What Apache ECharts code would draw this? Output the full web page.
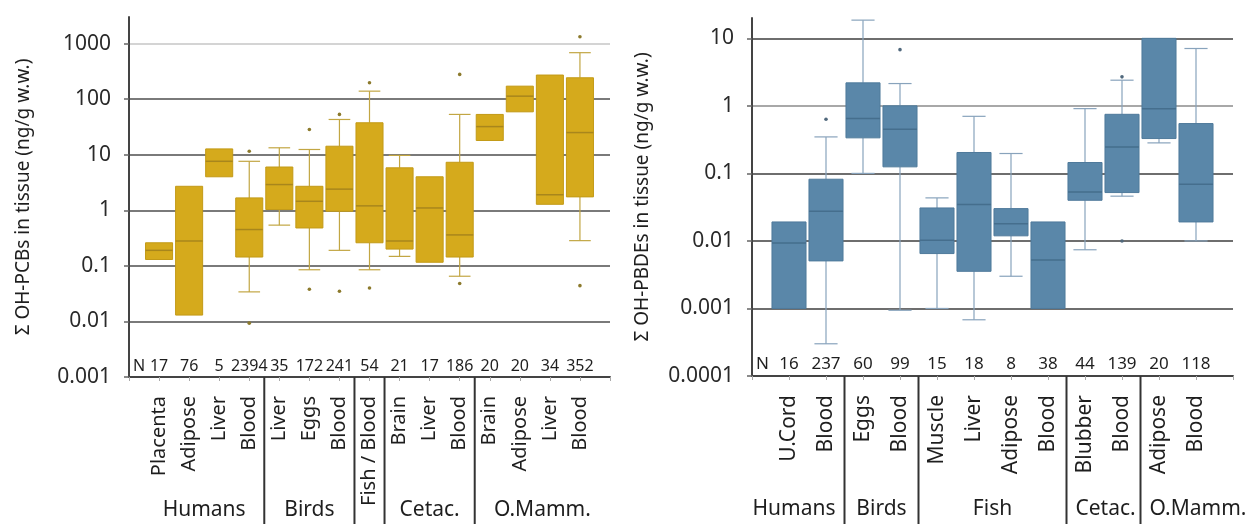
<!DOCTYPE html>
<html>
<head>
<meta charset="utf-8">
<script src="https://cdn.jsdelivr.net/npm/echarts@6/dist/echarts.min.js"></script>
<style>
html,body{margin:0;padding:0;background:#fff;}
#c{width:1260px;height:524px;}
</style>
</head>
<body>
<div id="c"></div>
<script>
// ---------- Left chart: OH-PCBs ----------
const catsL = ['Placenta','Adipose','Liver','Blood','Liver','Eggs','Blood','Fish / Blood','Brain','Liver','Blood','Brain','Adipose','Liver','Blood'];
const nL    = [17,76,5,2394,35,172,241,54,21,17,186,20,20,34,352];
const q1L   = [0.13,0.013,4.0,0.144,1.03,0.48,0.96,0.26,0.2,0.116,0.144,18,59,1.28,1.74];
const medL  = [0.19,0.28,7.6,0.45,2.9,1.45,2.4,1.2,0.28,1.1,0.36,32,113,1.9,25];
const q3L   = [0.26,2.7,12.7,1.67,6.0,2.7,14.2,37.5,5.8,4.0,7.3,53,171,271,242];
const minL  = [null,null,null,0.034,0.54,0.085,0.19,0.085,0.148,null,0.065,null,null,null,0.284];
const maxL  = [null,null,null,7.6,13.3,12.4,43,139,9.7,null,53,null,null,null,684];
const outL  = [[],[],[],[11.5,0.0093],[],[28.4,0.038],[53,0.035],[197,0.04],[],[],[278,0.048],[],[],[],[1323,0.044]];
const groupNamesL = ['Humans','Birds','','Cetac.','O.Mamm.'];
const groupSizesL = [4,3,1,3,4];
const yTitleL = 'Σ OH-PCBs in tissue (ng/g w.w.)';

// ---------- Right chart: OH-PBDEs ----------
const catsR = ['U.Cord','Blood','Eggs','Blood','Muscle','Liver','Adipose','Blood','Blubber','Blood','Adipose','Blood'];
const nR    = [16,237,60,99,15,18,8,38,44,139,20,118];
const q1R   = [0.001,0.00506,0.336,0.125,0.0065,0.00355,0.0119,0.001,0.04,0.052,0.328,0.0191];
const medR  = [0.0093,0.0275,0.65,0.45,0.0102,0.0345,0.018,0.0052,0.053,0.247,0.91,0.069];
const q3R   = [0.0191,0.082,2.19,1.0,0.0308,0.204,0.0301,0.0191,0.145,0.75,10,0.547];
const minR  = [null,0.0003,0.1,0.00094,0.001,0.00068,0.003,null,0.0074,0.046,0.283,0.01];
const maxR  = [null,0.347,18.6,2.14,0.0434,0.70,0.197,null,0.91,2.4,null,7.07];
const outR  = [[],[0.634],[],[6.8],[],[],[],[],[],[2.69,0.01],[],[]];
const groupNamesR = ['Humans','Birds','Fish','Cetac.','O.Mamm.'];
const groupSizesR = [2,2,4,2,2];
const yTitleR = 'Σ OH-PBDEs in tissue (ng/g w.w.)';

const FONT = '"Noto Sans", "DejaVu Sans", sans-serif';
const TXT = '#1e1e1e';

const measureCtx = document.createElement('canvas').getContext('2d');
function textWidth(t, size){
  measureCtx.font = size + 'px ' + FONT;
  return measureCtx.measureText(t).width;
}

function logLabel(v){
  const e = Math.round(Math.log10(v));
  return e < 0 ? Math.pow(10, e).toFixed(-e) : String(Math.pow(10, e));
}

function boxRenderer(cfg){
  return function(params, api){
    const i = params.dataIndex;
    const pos = api.value(0);
    const band = api.coord([pos + 0.5, cfg.med[i]])[0] - api.coord([pos - 0.5, cfg.med[i]])[0];
    const w = band * cfg.boxRatio;
    const cw = w * cfg.capRatio;
    const cx = api.coord([pos, cfg.med[i]])[0];
    const yQ1 = api.coord([pos, cfg.q1[i]])[1];
    const yQ3 = api.coord([pos, cfg.q3[i]])[1];
    const yMed = api.coord([pos, cfg.med[i]])[1];
    const ch = [];
    const ws = {stroke: cfg.whisker, lineWidth: 1.2};
    if (cfg.max[i] != null){
      const y = api.coord([pos, cfg.max[i]])[1];
      ch.push({type:'line', shape:{x1:cx, y1:yQ3, x2:cx, y2:y}, style:ws});
      ch.push({type:'line', shape:{x1:cx-cw/2, y1:y, x2:cx+cw/2, y2:y}, style:ws});
    }
    if (cfg.min[i] != null){
      const y = api.coord([pos, cfg.min[i]])[1];
      ch.push({type:'line', shape:{x1:cx, y1:yQ1, x2:cx, y2:y}, style:ws});
      ch.push({type:'line', shape:{x1:cx-cw/2, y1:y, x2:cx+cw/2, y2:y}, style:ws});
    }
    ch.push({type:'rect', shape:{x:cx-w/2, y:yQ3, width:w, height:yQ1-yQ3},
      style:{fill:cfg.fill, stroke:cfg.edge, lineWidth:1}});
    ch.push({type:'line', shape:{x1:cx-w/2, y1:yMed, x2:cx+w/2, y2:yMed},
      style:{stroke:cfg.medColor, lineWidth:1.5}});
    cfg.out[i].forEach(function(v){
      const p = api.coord([pos, v]);
      ch.push({type:'circle', shape:{cx:p[0], cy:p[1], r:1.8}, style:{fill:cfg.dot}});
    });
    // N row
    const yBase = api.coord([pos, cfg.yMin])[1];
    ch.push({type:'text', x:cx, y:yBase-3, style:{text:String(cfg.n[i]), fill:TXT,
      fontSize:cfg.nSize, fontFamily:FONT, align:'center', verticalAlign:'bottom'}});
    if (i === 0){
      const p0 = api.coord([0, cfg.yMin]);
      ch.push({type:'text', x:p0[0]+4, y:p0[1]-3, style:{text:'N', fill:TXT,
        fontSize:cfg.nSize, fontFamily:FONT, align:'left', verticalAlign:'bottom'}});
    }
    return {type:'group', children:ch};
  };
}

function groupRenderer(names, sizes, yMin, nCats){
  const starts = [];
  let s = 1;
  sizes.forEach(function(n){ starts.push(s); s += n; });
  const FS = 21;
  return function(params, api){
    const g = params.dataIndex;
    const st = starts[g], n = sizes[g];
    const ch = [];
    const left = api.coord([st - 0.5, yMin]);
    const right = api.coord([st + n - 0.5, yMin]);
    const isLast = g === sizes.length - 1;
    let cx = isLast ? (left[0] + api.coord([nCats + 1, yMin])[0]) / 2
                    : api.coord([st + (n - 1) / 2, yMin])[0];
    if (!isLast){
      ch.push({type:'line', shape:{x1:right[0], y1:right[1], x2:right[0], y2:right[1]+160},
        style:{stroke:'#333', lineWidth:2}});
    }
    if (names[g]){
      const tw = textWidth(names[g], FS);
      if (!isLast && cx + tw / 2 > right[0] - 9) cx = right[0] - 9 - tw / 2;
      if (g > 0 && cx - tw / 2 < left[0] + 9) cx = left[0] + 9 + tw / 2;
      ch.push({type:'text', x:cx, y:right[1]+133, style:{text:names[g], fill:TXT,
        fontSize:FS, fontFamily:FONT, align:'center', verticalAlign:'middle'}});
    }
    return {type:'group', children:ch};
  };
}

function xAxisFor(gi, cats, fs){
  return {
    gridIndex: gi, type:'value', min:0, max:cats.length + 1, interval:1,
    axisLine:{show:true, onZero:false, lineStyle:{color:'#444', width:2}},
    axisTick:{show:true, length:4, lineStyle:{color:'#aaa'}},
    splitLine:{show:false},
    axisLabel:{rotate:90, margin:19, fontSize:fs, color:TXT, fontFamily:FONT,
      formatter:function(v){ return cats[v - 1] || ''; }}
  };
}

function yAxisFor(gi, min, max, colors, title, gap){
  return {
    gridIndex: gi, type:'log', logBase:10, min:min, max:max,
    axisLine:{show:true, lineStyle:{color:'#444', width:2}},
    axisTick:{show:true, length:5, lineStyle:{color:'#666', width:1.5}},
    splitLine:{show:true, showMaxLine:false, lineStyle:{color:colors, width:2}},
    axisLabel:{fontSize:21, color:'#2a2a2a', fontFamily:FONT, margin:18, showMaxLabel:false,
      formatter:logLabel},
    name:title, nameLocation:'middle', nameGap:gap,
    nameTextStyle:{fontSize:19, color:TXT, fontFamily:FONT}
  };
}

const gold = {fill:'#d5aa1c', edge:'#c39a17', medColor:'#a8861c', whisker:'#c2a643', dot:'#8c7a2c'};
const blue = {fill:'#5a87a9', edge:'#4f7a9b', medColor:'#456e8d', whisker:'#88a3bc', dot:'#50687c'};

const cfgL = Object.assign({q1:q1L, med:medL, q3:q3L, min:minL, max:maxL, out:outL, n:nL, yMin:0.001, boxRatio:0.9, capRatio:0.8, nSize:16}, gold);
const cfgR = Object.assign({q1:q1R, med:medR, q3:q3R, min:minR, max:maxR, out:outR, n:nR, yMin:0.0001, boxRatio:0.92, capRatio:0.68, nSize:17}, blue);

const option = {
  animation:false,
  textStyle:{fontFamily:FONT},
  grid:[
    {left:129, top:17, width:481, height:360, containLabel:false, outerBoundsMode:'none'},
    {left:752, top:18, width:481, height:358, containLabel:false, outerBoundsMode:'none'}
  ],
  xAxis:[ xAxisFor(0, catsL, 20), xAxisFor(1, catsR, 21) ],
  yAxis:[
    yAxisFor(0, 0.001, 3000, ['#7a7a7a','#7a7a7a','#7a7a7a','#7a7a7a','#7a7a7a','#7a7a7a','#d4d4d4'], yTitleL, 96),
    yAxisFor(1, 0.0001, 20, ['#6e6e6e','#6e6e6e','#6e6e6e','#6e6e6e','#a8a8a8','#6e6e6e'], yTitleR, 100)
  ],
  series:[
    {type:'custom', xAxisIndex:0, yAxisIndex:0, clip:false, renderItem:boxRenderer(cfgL),
      encode:{x:0, y:1}, data:catsL.map(function(c,i){ return [i+1, medL[i]]; })},
    {type:'custom', xAxisIndex:1, yAxisIndex:1, clip:false, renderItem:boxRenderer(cfgR),
      encode:{x:0, y:1}, data:catsR.map(function(c,i){ return [i+1, medR[i]]; })},
    {type:'custom', xAxisIndex:0, yAxisIndex:0, clip:false, renderItem:groupRenderer(groupNamesL, groupSizesL, 0.001, catsL.length),
      encode:{x:0, y:1}, data:groupNamesL.map(function(){ return [1, 1]; })},
    {type:'custom', xAxisIndex:1, yAxisIndex:1, clip:false, renderItem:groupRenderer(groupNamesR, groupSizesR, 0.0001, catsR.length),
      encode:{x:0, y:1}, data:groupNamesR.map(function(){ return [1, 1]; })}
  ]
};

const chart = echarts.init(document.getElementById('c'), null, {renderer:'canvas'});
chart.setOption(option);
</script>
</body>
</html>
